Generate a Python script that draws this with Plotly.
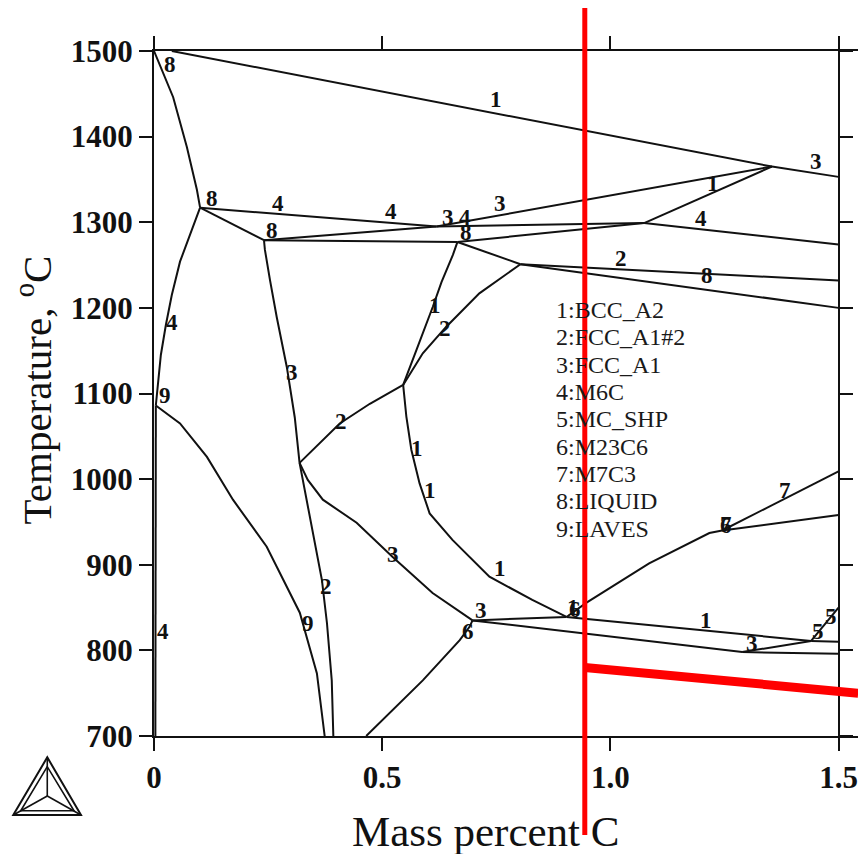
import plotly.graph_objects as go

# ---------------------------------------------------------------
# Isopleth section: temperature vs. mass percent C
# Each boundary is a (mass % C, temperature in °C) polyline.
# ---------------------------------------------------------------
liq_delta_x = [0.0, 0.042, 0.072, 0.094, 0.101]
liq_delta_t = [1500, 1446, 1388, 1338, 1317]

liq_top_x = [0.039, 1.354]
liq_top_t = [1500, 1365]

liq_right_x = [1.354, 1.5]
liq_right_t = [1365, 1353]

a_p_x = [0.101, 0.619]
a_p_t = [1317, 1295]

a_b_x = [0.101, 0.241]
a_b_t = [1317, 1279]

b_p_x = [0.241, 0.619]
b_p_t = [1279, 1295]

b_e_x = [0.241, 0.665]
b_e_t = [1279, 1277]

p_j_x = [0.619, 1.354]
p_j_t = [1295, 1365]

p_d_x = [0.619, 1.074]
p_d_t = [1295, 1299]

e_d_x = [0.665, 1.074]
e_d_t = [1277, 1299]

d_j_x = [1.074, 1.354]
d_j_t = [1299, 1365]

d_end_x = [1.074, 1.5]
d_end_t = [1299, 1274]

e_f_x = [0.665, 0.803]
e_f_t = [1277, 1251]

f_up_x = [0.803, 1.5]
f_up_t = [1251, 1232]

f_low_x = [0.803, 1.5]
f_low_t = [1251, 1200]

e_g_x = [0.665, 0.655, 0.630, 0.611, 0.575, 0.546]
e_g_t = [1277, 1262, 1230, 1201.3, 1150.7, 1110]

g_f_x = [0.546, 0.589, 0.6405, 0.713, 0.803]
g_f_t = [1110, 1147, 1178, 1217, 1251]

g_h_x = [0.546, 0.473, 0.407, 0.319]
g_h_t = [1110, 1088, 1065, 1019]

g_k_x = [0.546, 0.553, 0.564, 0.582, 0.604, 0.654, 0.735, 0.829, 0.904]
g_k_t = [1110, 1073, 1034, 995, 960, 929, 886, 859, 839]

a_l_x = [0.101, 0.079, 0.057, 0.039, 0.026, 0.015, 0.009, 0.004]
a_l_t = [1317, 1285, 1254, 1215, 1180, 1145, 1116, 1086]

l_axis_x = [0.004, 0.003]
l_axis_t = [1086, 700]

laves_x = [0.004, 0.057, 0.116, 0.173, 0.247, 0.3195, 0.357, 0.374]
laves_t = [1086, 1065, 1026, 976, 921, 844, 773, 700]

b_h_x = [0.241, 0.243, 0.254, 0.269, 0.291, 0.3085, 0.319]
b_h_t = [1279, 1268, 1233, 1189, 1131, 1072, 1019]

h_bot_x = [0.319, 0.326, 0.346, 0.368, 0.379, 0.3895, 0.393]
h_bot_t = [1019, 999, 940, 882, 832, 765, 700]

h_m_x = [0.319, 0.337, 0.370, 0.444, 0.523, 0.6105, 0.698]
h_m_t = [1019, 999, 976, 949, 909, 867, 835]

m_bot_x = [0.698, 0.6915, 0.670, 0.589, 0.465]
m_bot_t = [835, 827.5, 812, 765, 700]

m_k_x = [0.698, 0.904]
m_k_t = [835, 839]

k_r_x = [0.904, 1.440]
k_r_t = [839, 811]

m_s_x = [0.698, 1.289]
m_s_t = [835, 798]

s_end_x = [1.289, 1.5]
s_end_t = [798, 796]

s_r_x = [1.289, 1.440]
s_r_t = [798, 811]

r_end_x = [1.440, 1.5]
r_end_t = [811, 810]

r_mc_x = [1.440, 1.5]
r_mc_t = [811, 850]

k_q_x = [0.904, 0.947, 1.085, 1.217, 1.245]
k_q_t = [839, 855.5, 901.5, 937, 940]

q_m7_x = [1.245, 1.5]
q_m7_t = [940, 1009]

q_end_x = [1.245, 1.5]
q_end_t = [940, 958]

boundaries = [
    (liq_delta_x, liq_delta_t), (liq_top_x, liq_top_t), (liq_right_x, liq_right_t),
    (a_p_x, a_p_t), (a_b_x, a_b_t), (b_p_x, b_p_t), (b_e_x, b_e_t),
    (p_j_x, p_j_t), (p_d_x, p_d_t), (e_d_x, e_d_t), (d_j_x, d_j_t),
    (d_end_x, d_end_t), (e_f_x, e_f_t), (f_up_x, f_up_t), (f_low_x, f_low_t),
    (e_g_x, e_g_t), (g_f_x, g_f_t), (g_h_x, g_h_t), (g_k_x, g_k_t),
    (a_l_x, a_l_t), (l_axis_x, l_axis_t), (laves_x, laves_t), (b_h_x, b_h_t),
    (h_bot_x, h_bot_t), (h_m_x, h_m_t), (m_bot_x, m_bot_t), (m_k_x, m_k_t),
    (k_r_x, k_r_t), (m_s_x, m_s_t), (s_end_x, s_end_t), (s_r_x, s_r_t),
    (r_end_x, r_end_t), (r_mc_x, r_mc_t), (k_q_x, k_q_t), (q_m7_x, q_m7_t),
    (q_end_x, q_end_t),
]

# phase-number labels placed along the boundaries
label_x = [0.035, 0.7505, 1.4508, 1.2254, 0.1269, 0.2713, 0.5201, 0.6433, 0.6805,
           0.7571, 1.1985, 0.2575, 0.6827, 1.0234, 1.2123, 0.6149, 0.6368, 0.0387,
           0.3013, 0.0241, 0.4107, 0.5761, 0.6039, 0.5236, 0.7571, 0.3779, 0.3376,
           0.7171, 0.6877, 0.0204, 0.9180, 0.9232, 1.2532, 1.2532, 1.3821, 1.2094,
           1.3114, 1.4551, 1.4829]
label_t = [1484.8, 1442.8, 1370.7, 1345.8, 1328.3, 1322.4, 1312.3, 1305.0, 1306.1,
           1322.4, 1304.9, 1290.9, 1288.6, 1257.8, 1238.3, 1203.3, 1176.4, 1182.6,
           1124.2, 1098.1, 1066.9, 1035.9, 987.1, 912.4, 895.7, 874.2, 831.4,
           846.9, 821.6, 821.6, 850.5, 848.0, 946.8, 945.8, 987.1, 835.3,
           808.1, 821.6, 839.1]
label_txt = ["8", "1", "3", "1", "8", "4", "4", "3", "4",
             "3", "4", "8", "8", "2", "8", "1", "2", "4",
             "3", "9", "2", "1", "1", "3", "1", "2", "9",
             "3", "6", "4", "1", "6", "7", "6", "7", "1",
             "3", "5", "5"]

phase_names = ["1:BCC_A2", "2:FCC_A1#2", "3:FCC_A1", "4:M6C", "5:MC_SHP",
               "6:M23C6", "7:M7C3", "8:LIQUID", "9:LAVES"]
phase_key_x = 0.877
phase_key_t0 = 1197.5
phase_key_step = 31.9

x_ticks = [0, 0.5, 1.0, 1.5]
x_tick_text = ["0", "0.5", "1.0", "1.5"]
y_ticks = [700, 800, 900, 1000, 1100, 1200, 1300, 1400, 1500]

x_max = 1.5427
y_min, y_max = 700, 1500

# marked composition and cooling path
mark_x = 0.944
path_x = [0.944, 1.543]
path_t = [780, 750]

SERIF = "Liberation Serif"
INK = "#111111"

fig = go.Figure()

for bx, bt in boundaries:
    fig.add_trace(go.Scatter(x=bx, y=bt, mode="lines",
                             line=dict(color=INK, width=2),
                             showlegend=False, hoverinfo="skip"))

# carrier trace so the right-hand temperature axis is drawn
fig.add_trace(go.Scatter(x=[1.5], y=[1000], yaxis="y2", mode="markers",
                         marker=dict(opacity=0), showlegend=False, hoverinfo="skip"))

annotations = []
for lx, lt, s in zip(label_x, label_t, label_txt):
    annotations.append(dict(x=lx, y=lt, xref="x", yref="y", text=s, showarrow=False,
                            font=dict(family=SERIF, size=23, color=INK, weight="bold")))

for i, name in enumerate(phase_names):
    annotations.append(dict(x=phase_key_x, y=phase_key_t0 - i * phase_key_step,
                            xref="x", yref="y", text=name, showarrow=False,
                            xanchor="left", yanchor="middle",
                            font=dict(family=SERIF, size=24, color="#1a1a1a")))

annotations.append(dict(x=0.4716, y=-0.139, xref="paper", yref="paper",
                        text="Mass percent C", showarrow=False,
                        xanchor="center", yanchor="middle",
                        font=dict(family=SERIF, size=43, color=INK)))
annotations.append(dict(x=-0.17, y=0.505, xref="paper", yref="paper",
                        text="Temperature, <sup>o</sup>C", showarrow=False,
                        textangle=-90, xanchor="center", yanchor="middle",
                        font=dict(family=SERIF, size=41, color=INK)))

shapes = [
    dict(type="line", xref="x", yref="paper", x0=mark_x, x1=mark_x,
         y0=-0.1445, y1=1.0628, line=dict(color="#ff0000", width=5), layer="above"),
    dict(type="line", xref="x", yref="y", x0=path_x[0], x1=path_x[1],
         y0=path_t[0], y1=path_t[1], line=dict(color="#ff0000", width=9), layer="above"),
]

# software logo: nested triangles with spokes
logo_outer = [(-0.1516, -0.0311), (-0.1999, -0.1153), (-0.1037, -0.1153)]
logo_inner = [(-0.1516, -0.0448), (-0.1893, -0.1091), (-0.1136, -0.1091)]
logo_centre = (-0.1516, -0.0876)


def tri_path(pts):
    return "M {} {} L {} {} L {} {} Z".format(pts[0][0], pts[0][1], pts[1][0],
                                              pts[1][1], pts[2][0], pts[2][1])


shapes.append(dict(type="path", xref="paper", yref="paper", path=tri_path(logo_outer),
                   line=dict(color=INK, width=2)))
shapes.append(dict(type="path", xref="paper", yref="paper", path=tri_path(logo_inner),
                   line=dict(color=INK, width=1.6)))
for vx, vy in logo_outer:
    shapes.append(dict(type="line", xref="paper", yref="paper",
                       x0=logo_centre[0], y0=logo_centre[1], x1=vx, y1=vy,
                       line=dict(color=INK, width=1.6)))

fig.update_layout(
    width=858, height=854,
    margin=dict(l=154, r=0, t=51, b=118),
    paper_bgcolor="white", plot_bgcolor="white",
    showlegend=False,
    xaxis=dict(range=[0, x_max], tickvals=x_ticks, ticktext=x_tick_text,
               ticks="outside", ticklen=13, tickwidth=2, tickcolor=INK,
               showline=True, linewidth=2, linecolor=INK, mirror="ticks",
               showgrid=False, zeroline=False,
               tickfont=dict(family=SERIF, size=31, color=INK, weight="bold")),
    yaxis=dict(range=[y_min, y_max], tickvals=y_ticks,
               ticks="outside", ticklen=13, tickwidth=2, tickcolor=INK,
               showline=True, linewidth=2, linecolor=INK,
               showgrid=False, zeroline=False,
               tickfont=dict(family=SERIF, size=31, color=INK, weight="bold")),
    yaxis2=dict(range=[y_min, y_max], tickvals=y_ticks, overlaying="y",
                anchor="free", position=1.5 / x_max, side="right",
                ticks="outside", ticklen=13, tickwidth=2, tickcolor=INK,
                showline=True, linewidth=2, linecolor=INK,
                showticklabels=False, showgrid=False, zeroline=False),
    annotations=annotations,
    shapes=shapes,
)

fig.write_html("out.html")
